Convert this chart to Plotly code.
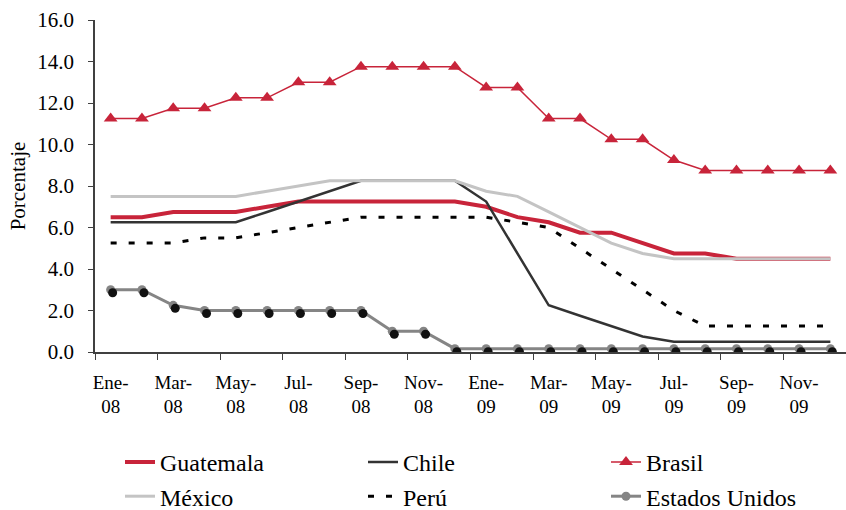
import plotly.graph_objects as go

# Months Jan-2008 .. Dec-2009 (Spanish abbreviations)
months = ["Ene-08", "Feb-08", "Mar-08", "Abr-08", "May-08", "Jun-08",
          "Jul-08", "Ago-08", "Sep-08", "Oct-08", "Nov-08", "Dic-08",
          "Ene-09", "Feb-09", "Mar-09", "Abr-09", "May-09", "Jun-09",
          "Jul-09", "Ago-09", "Sep-09", "Oct-09", "Nov-09", "Dic-09"]

# Policy interest rates (%)
guatemala = [6.50, 6.50, 6.75, 6.75, 6.75, 7.00, 7.25, 7.25, 7.25, 7.25, 7.25, 7.25,
             7.00, 6.50, 6.25, 5.75, 5.75, 5.25, 4.75, 4.75, 4.50, 4.50, 4.50, 4.50]
chile = [6.25, 6.25, 6.25, 6.25, 6.25, 6.75, 7.25, 7.75, 8.25, 8.25, 8.25, 8.25,
         7.25, 4.75, 2.25, 1.75, 1.25, 0.75, 0.50, 0.50, 0.50, 0.50, 0.50, 0.50]
brasil = [11.25, 11.25, 11.75, 11.75, 12.25, 12.25, 13.00, 13.00, 13.75, 13.75, 13.75, 13.75,
          12.75, 12.75, 11.25, 11.25, 10.25, 10.25, 9.25, 8.75, 8.75, 8.75, 8.75, 8.75]
mexico = [7.50, 7.50, 7.50, 7.50, 7.50, 7.75, 8.00, 8.25, 8.25, 8.25, 8.25, 8.25,
          7.75, 7.50, 6.75, 6.00, 5.25, 4.75, 4.50, 4.50, 4.50, 4.50, 4.50, 4.50]
peru = [5.25, 5.25, 5.25, 5.50, 5.50, 5.75, 6.00, 6.25, 6.50, 6.50, 6.50, 6.50,
        6.50, 6.25, 6.00, 5.00, 4.00, 3.00, 2.00, 1.25, 1.25, 1.25, 1.25, 1.25]
estados_unidos = [3.00, 3.00, 2.25, 2.00, 2.00, 2.00, 2.00, 2.00, 2.00, 1.00, 1.00, 0.16,
                  0.16, 0.16, 0.16, 0.16, 0.16, 0.16, 0.16, 0.16, 0.16, 0.16, 0.16, 0.16]

# Axis labels: every second month, two-line "Mes-\naño"
tick_idx = list(range(0, 24, 2))
tick_text = [months[i][:4] + "<br>" + months[i][4:] for i in tick_idx]
y_ticks = [0, 2, 4, 6, 8, 10, 12, 14, 16]

x = list(range(len(months)))
RED = "#C8243A"
FONT = "Liberation Serif, Times New Roman, DejaVu Serif, serif"

fig = go.Figure()

# drop shadow under the US markers (drawn on slightly offset overlay axes)
fig.add_trace(go.Scatter(x=x, y=estados_unidos, mode="markers", xaxis="x2", yaxis="y2",
                         marker=dict(symbol="circle", size=9, color="#111111"),
                         showlegend=False, hoverinfo="skip"))

fig.add_trace(go.Scatter(x=x, y=guatemala, name="Guatemala", mode="lines",
                         line=dict(color=RED, width=4)))
fig.add_trace(go.Scatter(x=x, y=chile, name="Chile", mode="lines",
                         line=dict(color="#333333", width=2.5)))
fig.add_trace(go.Scatter(x=x, y=brasil, name="Brasil", mode="lines+markers",
                         line=dict(color=RED, width=1.5),
                         marker=dict(symbol="triangle-up", size=12, color=RED)))
fig.add_trace(go.Scatter(x=x, y=mexico, name="México", mode="lines",
                         line=dict(color="#C4C4C4", width=3)))
fig.add_trace(go.Scatter(x=x, y=peru, name="Perú", mode="lines",
                         line=dict(color="#000000", width=3, dash="6px,12px")))
fig.add_trace(go.Scatter(x=x, y=estados_unidos, name="Estados Unidos", mode="lines+markers",
                         line=dict(color="#858585", width=3),
                         marker=dict(symbol="circle", size=9, color="#858585")))

x_range = [-0.5, 23.5]
y_range = [0, 16]
dx = 2 / 31.3     # shadow offset, right
dy = 3 / 20.75    # shadow offset, down

fig.update_layout(
    width=846, height=510,
    margin=dict(l=95, r=0, t=20, b=158),
    paper_bgcolor="white", plot_bgcolor="white",
    font=dict(family=FONT, size=19, color="#000000"),
    xaxis=dict(range=x_range, tickmode="array", tickvals=tick_idx, ticktext=tick_text,
               ticks="", showgrid=False, zeroline=False,
               showline=True, linecolor="#404040", linewidth=1.5,
               tickfont=dict(family=FONT, size=19), ticklabelstandoff=12,
               minor=dict(tickmode="linear", tick0=-0.5, dtick=2, ticks="outside",
                          ticklen=6, tickcolor="#404040", tickwidth=1.2, showgrid=False)),
    yaxis=dict(range=y_range, tickvals=y_ticks, tickformat=".1f",
               ticks="outside", ticklen=5, tickcolor="#404040", tickwidth=1.2,
               showgrid=False, zeroline=False,
               showline=True, linecolor="#404040", linewidth=1.5,
               tickfont=dict(family=FONT, size=21), ticklabelstandoff=10,
               title=dict(text="Porcentaje", font=dict(family=FONT, size=21), standoff=6)),
    xaxis2=dict(range=[x_range[0] - dx, x_range[1] - dx], overlaying="x",
                visible=False),
    yaxis2=dict(range=[y_range[0] + dy, y_range[1] + dy], overlaying="y",
                visible=False),
    legend=dict(orientation="h", x=120 / 846, xref="container", xanchor="left",
                y=0.06, yref="container", yanchor="middle",
                entrywidth=198, font=dict(family=FONT, size=24), traceorder="normal",
                bgcolor="rgba(0,0,0,0)"),
    showlegend=True,
)

fig.write_html("out.html")
